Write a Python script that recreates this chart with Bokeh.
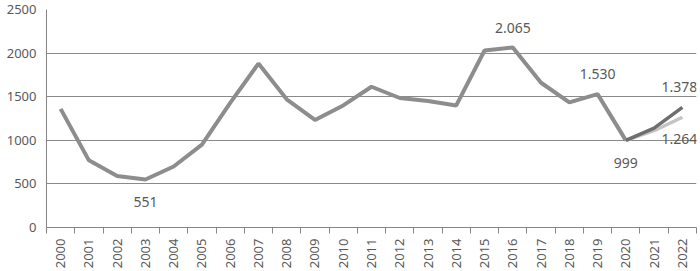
import math
from bokeh.plotting import figure
from bokeh.models import FixedTicker, ColumnDataSource, Range1d
from bokeh.core.properties import value
from bokeh.embed import file_html
from bokeh.resources import INLINE

years = [str(y) for y in range(2000, 2023)]
main_years = years[:21]
main_vals = [1360, 770, 590, 551, 700, 950, 1430, 1880, 1470, 1233, 1400,
             1614, 1485, 1450, 1400, 2030, 2065, 1660, 1435, 1530, 999]
dark_years = ["2020", "2021", "2022"]
dark_vals = [999, 1140, 1378]
light_years = ["2020", "2021", "2022"]
light_vals = [999, 1110, 1264]
y_ticks = [0, 500, 1000, 1500, 2000, 2500]

label_years = ["2003", "2016", "2019", "2022", "2022", "2020"]
label_vals = [551, 2065, 1530, 1378, 1264, 999]
label_texts = ["551", "2.065", "1.530", "1.378", "1.264", "999"]
label_dy = [23, -19, -20, -20, 22, 23]
label_dx = [0, 0, 0, -3, -3, 0]

idx = {y: i for i, y in enumerate(years)}

p = figure(width=700, height=271, output_backend="svg", toolbar_location=None,
           x_range=Range1d(-0.5, len(years) - 0.5), y_range=Range1d(0, 2500),
           min_border_left=46, min_border_right=4, min_border_top=9, min_border_bottom=43)
p.outline_line_color = None
p.background_fill_color = "white"
p.border_fill_color = "white"

p.line([idx[y] for y in main_years], main_vals, line_color="#8d8d8d", line_width=4)
p.line([idx[y] for y in light_years], light_vals, line_color="#c4c4c4", line_width=3.5)
p.line([idx[y] for y in dark_years], dark_vals, line_color="#6e6e6e", line_width=3.5)

src = ColumnDataSource(dict(x=[idx[y] for y in label_years], y=label_vals,
                            t=label_texts, dy=label_dy, dx=label_dx))
p.text(x="x", y="y", text="t", y_offset="dy", x_offset="dx", source=src,
       text_align="center", text_baseline="middle", text_font=value("Noto Sans"),
       text_font_size="14px", text_color="#595959")

p.xgrid.visible = False
p.ygrid.grid_line_color = "#8a8a8a"
p.ygrid.grid_line_width = 1
p.ygrid.ticker = FixedTicker(ticks=y_ticks)

p.xaxis.ticker = FixedTicker(ticks=list(range(len(years))),
                             minor_ticks=[i - 0.5 for i in range(len(years) + 1)])
p.xaxis.major_label_overrides = {i: y for i, y in enumerate(years)}
p.xaxis.major_label_orientation = math.pi / 2
p.xaxis.major_tick_out = 0
p.xaxis.major_tick_in = 0
p.xaxis.minor_tick_out = 6
p.xaxis.minor_tick_in = 0
p.xaxis.minor_tick_line_color = "#868686"
p.xaxis.axis_line_color = "#868686"
p.xaxis.major_label_standoff = 5

p.yaxis.ticker = FixedTicker(ticks=y_ticks)
p.yaxis.major_tick_out = 0
p.yaxis.major_tick_in = 0
p.yaxis.minor_tick_out = 0
p.yaxis.minor_tick_in = 0
p.yaxis.axis_line_color = "#868686"
p.yaxis.major_label_standoff = 10

for ax in (p.xaxis, p.yaxis):
    ax.major_label_text_font = "Noto Sans"
    ax.major_label_text_font_size = "13px"
    ax.major_label_text_color = "#595959"

open("out.html", "w").write(file_html(p, INLINE))
